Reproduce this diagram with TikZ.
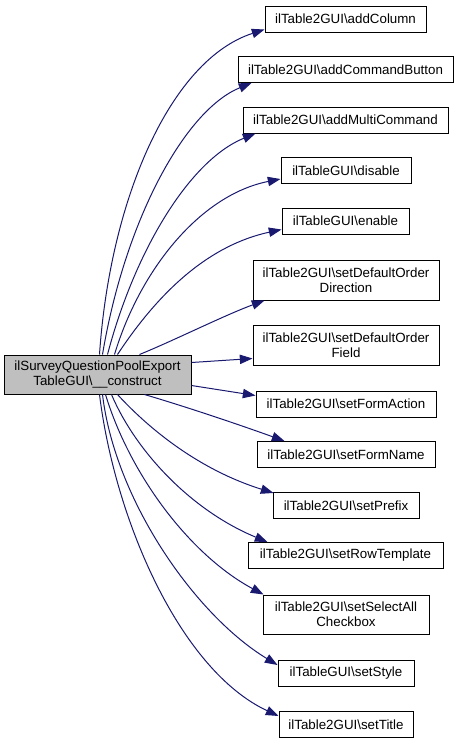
\documentclass[tikz,border=0pt]{standalone}
\usepackage{fontspec}
\setmainfont{Liberation Sans}
\usetikzlibrary{arrows.meta,calc}

\definecolor{midnightblue}{HTML}{191970}

\begin{document}
\begin{tikzpicture}[x=0.75pt,y=-0.75pt]

\tikzset{fn/.style={draw=black,line width=0.75pt,fill=white,inner sep=0pt,align=center,minimum height=19.5pt,font=\fontsize{10}{11.25}\selectfont},
%two line boxes are taller
fntall/.style={fn,minimum height=30pt},
cur/.style={fntall,fill=black!25,minimum height=29.25pt},
call/.style={draw=midnightblue,line width=0.75pt,-{Triangle[length=9.5pt,width=7pt]}}}

\useasboundingbox (0,0) rectangle (459,743);

\node [cur,minimum width=140.25pt] (src) at (97.5,374.5) {ilSurveyQuestionPoolExport\\TableGUI\textbackslash\_\_construct};

\node [fn,minimum width=120.75pt] (addColumn) at (345.5,19) {ilTable2GUI\textbackslash addColumn};
\node [fn,minimum width=161.25pt] (addCommandButton) at (345.5,69.5) {ilTable2GUI\textbackslash addCommandButton};
\node [fn,minimum width=153.75pt] (addMultiCommand) at (345.5,120) {ilTable2GUI\textbackslash addMultiCommand};
\node [fn,minimum width=97.5pt] (disable) at (346,170.5) {ilTableGUI\textbackslash disable};
\node [fn,minimum width=95.25pt] (enable) at (345.5,221) {ilTableGUI\textbackslash enable};
\node [fntall,minimum width=139.5pt] (orderDirection) at (346,280) {ilTable2GUI\textbackslash setDefaultOrder\\Direction};
\node [fntall,minimum width=139.5pt] (orderField) at (346,345) {ilTable2GUI\textbackslash setDefaultOrder\\Field};
\node [fn,minimum width=135pt] (formAction) at (346,404) {ilTable2GUI\textbackslash setFormAction};
\node [fn,minimum width=133.5pt] (formName) at (346,454.5) {ilTable2GUI\textbackslash setFormName};
\node [fn,minimum width=109.5pt] (prefix) at (346,505.5) {ilTable2GUI\textbackslash setPrefix};
\node [fn,minimum width=146.25pt] (rowTemplate) at (345.5,555.5) {ilTable2GUI\textbackslash setRowTemplate};
\node [fntall,minimum width=124.5pt,minimum height=29.25pt] (selectAll) at (346,614.5) {ilTable2GUI\textbackslash setSelectAll\\Checkbox};
\node [fn,minimum width=102pt] (setStyle) at (346,673.5) {ilTableGUI\textbackslash setStyle};
\node [fn,minimum width=100.5pt] (setTitle) at (346,724.5) {ilTable2GUI\textbackslash setTitle};

\draw [call] ($(src.north west)+(96,0)$) .. controls (110,200) and (170,60) .. ($(addColumn.south west)+(0,-3)$);
\draw [call] ($(src.north west)+(99,0)$) .. controls (125,220) and (185,110) .. ($(addCommandButton.south west)+(14,0)$);
\draw [call] ($(src.north west)+(104,0)$) .. controls (135,250) and (190,160) .. ($(addMultiCommand.south west)+(13,0)$);
\draw [call] ($(src.north west)+(111,0)$) .. controls (140,270) and (200,195) .. ($(disable.south west)+(0,-5)$);
\draw [call] ($(src.north west)+(114,0)$) .. controls (160,290) and (210,245) .. ($(enable.south west)+(0,-5)$);
\draw [call] ($(src.north west)+(136,0)$) .. controls (175,340) and (225,315) .. ($(orderDirection.south west)+(12,0)$);
\draw [call] ($(src.north east)+(0,8)$) -- ($(orderField.south west)+(0,-7)$);
\draw [call] ($(src.north east)+(0,31)$) -- ($(formAction.north west)+(0,5)$);
\draw [call] ($(src.south west)+(141,0)$) .. controls (190,408) and (240,425) .. ($(formName.north west)+(28,0)$);
\draw [call] ($(src.south west)+(114,0)$) .. controls (150,430) and (200,470) .. ($(prefix.north west)+(1,1)$);
\draw [call] ($(src.south west)+(108,0)$) .. controls (135,450) and (190,510) .. ($(rowTemplate.north west)+(20,0)$);
\draw [call] ($(src.south west)+(102,0)$) .. controls (130,475) and (190,555) .. ($(selectAll.north west)+(1,0)$);
\draw [call] ($(src.south west)+(99,0)$) .. controls (115,500) and (195,615) .. ($(setStyle.north west)+(0,5)$);
\draw [call] ($(src.south west)+(96,0)$) .. controls (115,520) and (180,670) .. ($(setTitle.north west)+(0,5)$);

\end{tikzpicture}
\end{document}
